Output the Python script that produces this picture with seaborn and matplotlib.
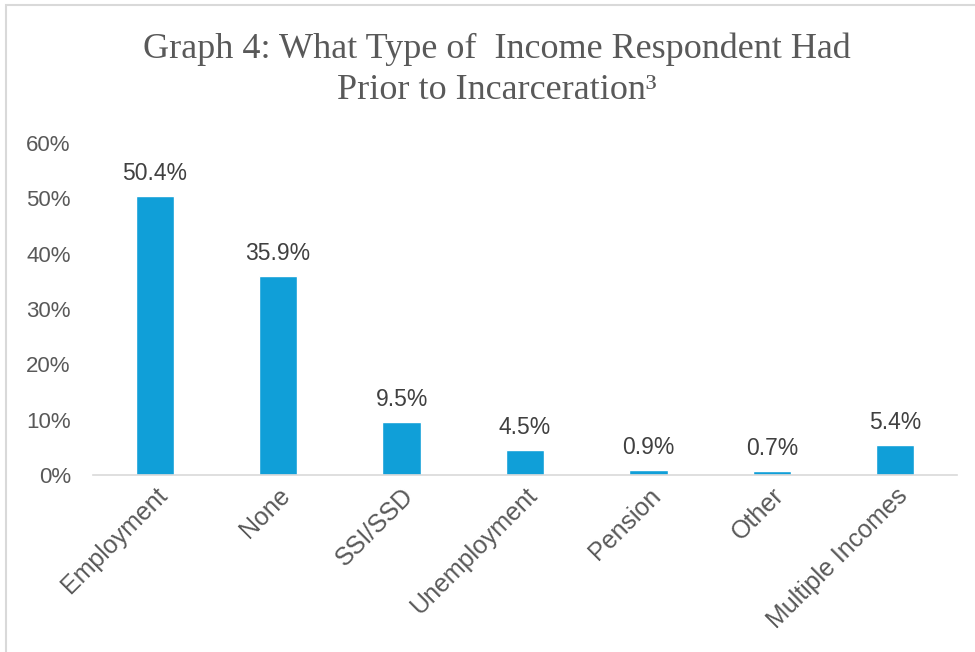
import matplotlib
matplotlib.use("Agg")
import matplotlib.pyplot as plt
from matplotlib.patches import Rectangle
from matplotlib.ticker import PercentFormatter
import seaborn as sns
import pandas as pd

categories = ["Employment", "None", "SSI/SSD", "Unemployment", "Pension", "Other", "Multiple Incomes"]
shares = [50.4, 35.9, 9.5, 4.5, 0.9, 0.7, 5.4]
y_ticks = [0, 10, 20, 30, 40, 50, 60]

df = pd.DataFrame({"category": categories, "share": shares})

sns.set_theme(style="white")
plt.rcParams["font.family"] = ["Liberation Sans", "DejaVu Sans"]

fig = plt.figure(figsize=(9.75, 6.52), dpi=100)
ax = fig.add_axes([93 / 975, 1 - 475 / 652, (957 - 93) / 975, (475 - 143) / 652])

sns.barplot(data=df, x="category", y="share", color="#109FD8", saturation=1,
            width=0.31, ax=ax)

ax.set_ylim(0, 60)
ax.set_yticks(y_ticks)
ax.yaxis.set_major_formatter(PercentFormatter(decimals=0))
ax.set_xlim(-0.5, len(categories) - 0.5)
ax.set_xlabel("")
ax.set_ylabel("")

for side in ["top", "right", "left"]:
    ax.spines[side].set_visible(False)
ax.spines["bottom"].set_color("#D9D9D9")
ax.spines["bottom"].set_linewidth(1.2)

ax.tick_params(axis="y", length=0, pad=16, labelsize=16, labelcolor="#595959")
ax.tick_params(axis="x", length=0, pad=6, labelsize=18, labelcolor="#595959")
for lbl in ax.get_xticklabels():
    lbl.set_rotation(45)
    lbl.set_ha("right")
    lbl.set_rotation_mode("anchor")

for i, v in enumerate(shares):
    ax.text(i, v + 2.0, f"{v:.1f}%", ha="center", va="bottom",
            fontsize=16.5, color="#404040")

fig.text(497 / 975, 1 - 70 / 652,
         "Graph 4: What Type of  Income Respondent Had\nPrior to Incarceration\u00b3",
         ha="center", va="center", fontsize=26, color="#595959",
         family=["Liberation Serif", "DejaVu Serif"], linespacing=1.3)

fig.add_artist(Rectangle((6 / 975, -0.1), 1.1, 1 - 5 / 652 + 0.1,
                         transform=fig.transFigure, fill=False,
                         edgecolor="#D9D9D9", linewidth=1.5))

fig.savefig("out.png", dpi=100)
